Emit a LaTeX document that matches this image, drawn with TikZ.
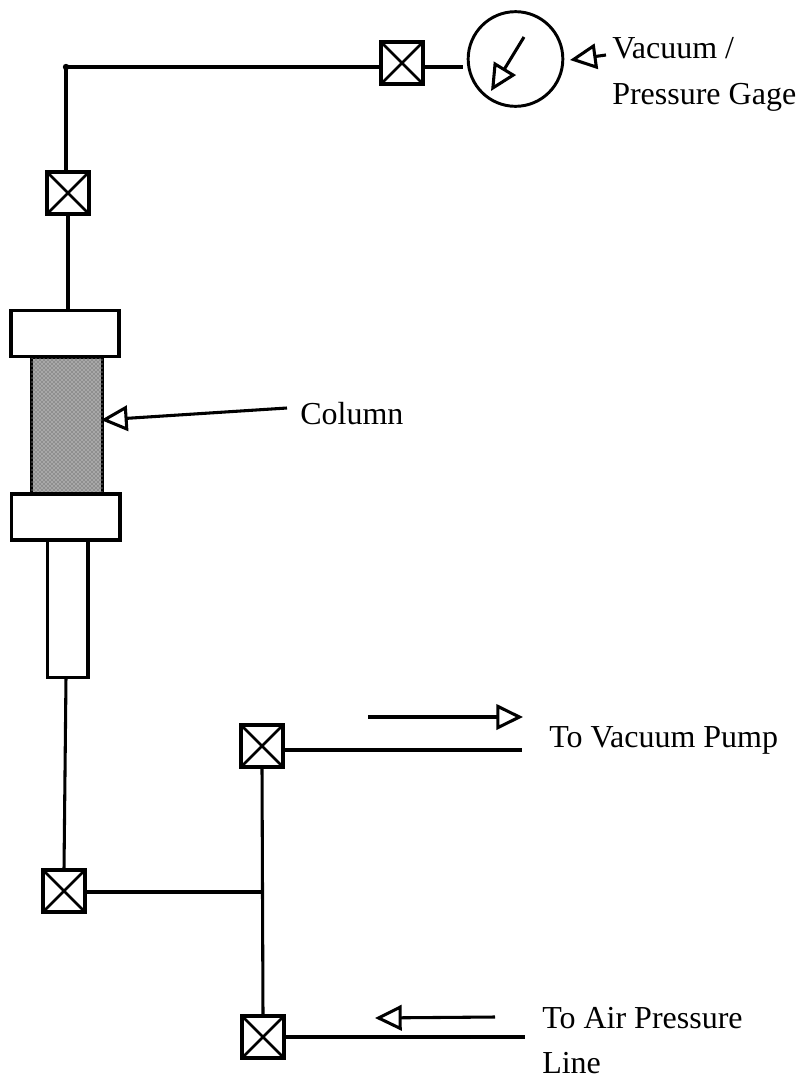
\documentclass[tikz,border=0pt]{standalone}
\usepackage{fontspec}
\setmainfont{Liberation Serif}
\usetikzlibrary{arrows.meta,patterns}
\tikzset{
  ln/.style={line width=2.3pt,line cap=butt},
  hollow/.style={ln,-{Triangle[open,length=20pt,width=19pt,line width=2.3pt]}},
  valve/.style={draw,line width=2.6pt,minimum size=31.5pt,inner sep=0pt,outer sep=0pt,
    path picture={\draw[line width=2pt] (path picture bounding box.north west)--(path picture bounding box.south east)
      (path picture bounding box.north east)--(path picture bounding box.south west);}},
  capbox/.style={draw,line width=2.5pt,fill=white,inner sep=0pt,outer sep=0pt},
  lbl/.style={anchor=base west,inner sep=0pt,font=\fontsize{24pt}{24pt}\selectfont}
}
\begin{document}
\begin{tikzpicture}[x=0.75pt,y=-0.75pt]
\useasboundingbox (0,0) rectangle (801,1078);
% valves
\node[valve] (v1) at (402,63) {};
\node[valve] (v2) at (68,193) {};
\node[valve] (v3) at (64,891) {};
\node[valve] (v4) at (262,746) {};
\node[valve] (v5) at (263,1037) {};
% column
\node[draw,line width=2.6pt,fill=black!44,minimum width=53pt,minimum height=103pt,inner sep=0pt,outer sep=0pt,
  postaction={pattern=crosshatch dots,pattern color=white}] (col) at (67,425.5) {};
\node[capbox,minimum width=81pt,minimum height=34.5pt] (cap1) at (65,333.5) {};
\node[capbox,minimum width=81.5pt,minimum height=34.5pt] (cap2) at (65.5,517) {};
\node[capbox,minimum width=30.5pt,minimum height=103pt] (tube) at (67.5,608.5) {};
% gauge
\node[draw,circle,line width=2.2pt,minimum size=71pt,inner sep=0pt,outer sep=0pt] (g) at (515.5,59) {};
% free ends
\coordinate (corner) at (66,67);
\coordinate (gs) at (463,67);
\coordinate (junc) at (262,892);
\coordinate (vpe) at (522,750);
\coordinate (ape) at (525,1037);
% pipes
\draw[ln] (v1.west|-corner) -- (corner) -- (v2.north-|corner);
\fill (corner) circle (2.4pt);
\draw[ln] (v1.east|-gs) -- (gs);
\draw[ln] (v2) -- (cap1.north-|v2);
\draw[ln] (tube.south-|corner) -- (v3.north);
\draw[ln] (v3.east|-junc) -- (junc);
\draw[ln] (v4.south) -- (v5.north);
\draw[ln] (v4.east|-vpe) -- (vpe);
\draw[ln] (v5.east) -- (ape);
% arrows
\coordinate (a1s) at (606,55); \coordinate (a1e) at (570,60);
\coordinate (a2s) at (524,37); \coordinate (a2e) at (491,91);
\coordinate (a3s) at (287,408); \coordinate (a3e) at (101,420);
\coordinate (a4s) at (368,717); \coordinate (a4e) at (523,717);
\coordinate (a5s) at (495,1017); \coordinate (a5e) at (375,1018);
\draw[hollow] (a1s) -- (a1e);
\draw[hollow] (a2s) -- (a2e);
\draw[hollow] (a3s) -- (a3e);
\draw[hollow] (a4s) -- (a4e);
\draw[hollow] (a5s) -- (a5e);
% labels
\node[lbl] (t1) at (612,58) {Vacuum /};
\node[lbl] (t2) at (612,104) {Pressure Gage};
\node[lbl] (t3) at (300,424) {Column};
\node[lbl] (t4) at (549,747) {To Vacuum Pump};
\node[lbl] (t5) at (542,1028) {To Air Pressure};
\node[lbl] (t6) at (542,1073) {Line};
\end{tikzpicture}
\end{document}
